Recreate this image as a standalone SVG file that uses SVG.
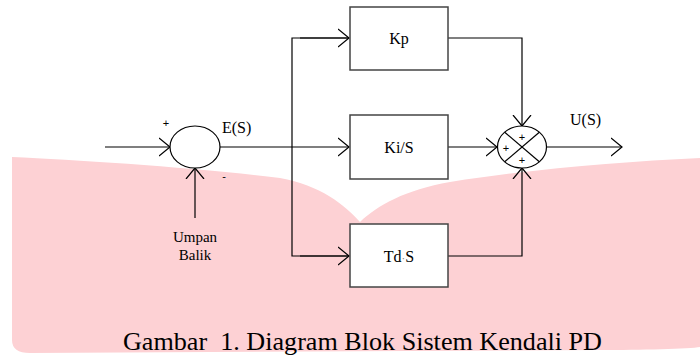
<svg xmlns="http://www.w3.org/2000/svg" width="700" height="359" viewBox="0 0 700 359">
<defs>
<style>
.ln{fill:none;stroke:#000;stroke-width:1.2}
.box{fill:#fff;stroke:#444;stroke-width:1.5}
.sum{fill:#fff;stroke:#000;stroke-width:1.2}
.t{font-family:"Liberation Serif","Times New Roman",serif;fill:#000}
.lbl{font-size:16px}
.sm{font-family:"Liberation Sans",sans-serif;font-size:11px;fill:#000}
</style>
<marker id="ah" viewBox="0 0 12 20" refX="11" refY="10" markerWidth="12" markerHeight="20" markerUnits="userSpaceOnUse" orient="auto">
<path d="M0,1 L11,10 L0,19" fill="none" stroke="#000" stroke-width="1.2"/>
</marker>
</defs>
<rect width="700" height="359" fill="#fff"/>
<path d="M12,157 C80,160 200,168 280,178 C320,185 345,205 360,222 C378,205 405,190 450,182 C540,168 620,162 700,158 L700,347 C690,349 640,350 600,350 L30,353 Q12,353 12,340 Z" fill="#fdd1d4"/>
<g id="connectors">
<line class="ln" x1="105" y1="147" x2="170" y2="147" marker-end="url(#ah)"/>
<line class="ln" x1="195" y1="218" x2="195" y2="168" marker-end="url(#ah)"/>
<line class="ln" x1="220" y1="147" x2="349" y2="147" marker-end="url(#ah)"/>
<polyline class="ln" points="349,38 292,38 292,256 349,256"/>
<line class="ln" x1="300" y1="38" x2="349" y2="38" marker-end="url(#ah)"/>
<line class="ln" x1="300" y1="256" x2="349" y2="256" marker-end="url(#ah)"/>
<polyline class="ln" points="448,38 522,38 522,126" marker-end="url(#ah)"/>
<line class="ln" x1="448" y1="147" x2="497" y2="147" marker-end="url(#ah)"/>
<polyline class="ln" points="448,256 522,256 522,168" marker-end="url(#ah)"/>
<line class="ln" x1="547" y1="147" x2="622" y2="147" marker-end="url(#ah)"/>
</g>
<g id="sum1">
<ellipse class="sum" cx="195" cy="147" rx="25" ry="21"/>
<text class="sm" x="166" y="127" text-anchor="middle">+</text>
<text class="sm" x="224" y="180" text-anchor="middle">-</text>
</g>
<g id="es"><text class="t lbl" x="222" y="133">E(S)</text></g>
<g id="feedback"><text class="t" font-size="15" x="195" y="242" text-anchor="middle">Umpan</text><text class="t" font-size="15" x="195" y="260" text-anchor="middle">Balik</text></g>
<g id="kp"><rect class="box" x="350" y="7" width="98" height="63"/><text class="t lbl" x="399" y="44" text-anchor="middle">Kp</text></g>
<g id="ki"><rect class="box" x="350" y="115" width="98" height="64"/><text class="t lbl" x="399" y="153" text-anchor="middle">Ki/S</text></g>
<g id="td"><rect class="box" x="350" y="224" width="98" height="63"/><text class="t lbl" x="399" y="262" text-anchor="middle">Td<tspan fill="#777" font-size="11">·</tspan>S</text></g>
<g id="sum2">
<ellipse class="sum" cx="522" cy="147" rx="24.5" ry="21"/>
<line class="ln" x1="504.7" y1="132.2" x2="539.3" y2="161.8"/>
<line class="ln" x1="539.3" y1="132.2" x2="504.7" y2="161.8"/>
<text class="sm" x="522" y="141" text-anchor="middle">+</text>
<text class="sm" x="506" y="152" text-anchor="middle">+</text>
<text class="sm" x="522" y="164" text-anchor="middle">+</text>
</g>
<g id="us"><text class="t lbl" x="570" y="125">U(S)</text></g>
<g id="caption"><text class="t" font-size="26" x="123" y="350" xml:space="preserve" textLength="479" lengthAdjust="spacingAndGlyphs">Gambar  1. Diagram Blok Sistem Kendali PD</text></g>
</svg>
